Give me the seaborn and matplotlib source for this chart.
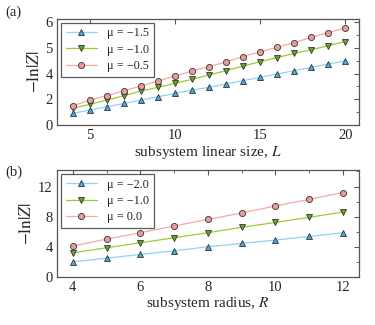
"""
Two-panel plot of -ln|Z| against subsystem size for several mu values.
"""

import numpy as np
import pandas as pd
import matplotlib

matplotlib.use("Agg")
import matplotlib.pyplot as plt  # noqa: E402
import seaborn as sns  # noqa: E402
from matplotlib.ticker import FixedLocator  # noqa: E402

# panel (a): linear size L
size_L = list(range(4, 21))
mu_a = ["−1.5", "−1.0", "−0.5"]
lnz_a_m15 = [0.91, 1.17, 1.42, 1.68, 1.94, 2.20, 2.46, 2.72, 2.93, 3.19, 3.45, 3.70, 3.96, 4.11, 4.24, 4.37, 4.49]
lnz_a_m10 = [1.30, 1.61, 1.94, 2.28, 2.64, 2.93, 3.24, 3.55, 3.89, 4.11, 4.29, 4.46, 4.62, 4.78, 4.92, 5.08, 5.24]
lnz_a_m05 = [1.50, 1.94, 2.28, 2.67, 3.03, 3.42, 3.81, 4.10, 4.27, 4.45, 4.66, 4.84, 5.02, 5.20, 5.40, 5.59, 5.76]

# panel (b): radius R
radius_R = list(range(4, 13))
mu_b = ["−2.0", "−1.0", "0.0"]
lnz_b_m20 = [2.00, 2.49, 2.98, 3.47, 4.00, 4.44, 4.89, 5.38, 5.87]
lnz_b_m10 = [3.20, 3.87, 4.53, 5.20, 5.87, 6.58, 7.24, 7.91, 8.62]
lnz_b_p00 = [4.09, 5.02, 5.87, 6.76, 7.64, 8.49, 9.42, 10.31, 11.20]

line_colors = ["#8fd3f5", "#9acd32", "#f7a8a8"]
face_colors = ["#4aa8dc", "#6aa52a", "#ef9a9a"]
markers = ["^", "v", "o"]


# the upper panel's y axis is stretched above 4 (labels 0, 2, 4, 5, 6 sit evenly)
def fwd(y):
    y = np.asarray(y, dtype=float)
    return np.where(y <= 4, y, 4 + 2 * (y - 4))


def inv(s):
    s = np.asarray(s, dtype=float)
    return np.where(s <= 4, s, 4 + (s - 4) / 2)


def draw(ax, x, series, labels):
    for i, (ys, mu) in enumerate(zip(series, labels)):
        df = pd.DataFrame({"x": x, "y": ys})
        sns.lineplot(data=df, x="x", y="y", ax=ax, color=line_colors[i], lw=0.9,
                     marker=markers[i], markersize=4.4, markerfacecolor=face_colors[i],
                     markeredgecolor="#333333", markeredgewidth=0.6,
                     label=f"μ = {mu}")
    leg = ax.legend(loc="upper left", frameon=True, fancybox=False, fontsize=8.8,
                    handlelength=2.6, borderpad=0.4, labelspacing=0.35,
                    borderaxespad=0.3, handletextpad=0.8)
    leg.get_frame().set_edgecolor("#333333")
    leg.get_frame().set_linewidth(0.9)
    ax.tick_params(which="both", direction="in", right=True, top=True, labelsize=10.5,
                   color="#555555", pad=3)
    ax.tick_params(which="major", length=3.5)
    ax.tick_params(which="minor", length=2)
    ax.set_ylabel(r"$-\ln|Z|$", fontsize=12.5, labelpad=2)
    for sp in ax.spines.values():
        sp.set_color("#555555")
        sp.set_linewidth(0.9)


def main():
    sns.set_style("white")
    plt.rcParams["font.family"] = ["Liberation Serif", "DejaVu Serif"]
    plt.rcParams["mathtext.fontset"] = "stix"

    fig = plt.figure(figsize=(3.75, 3.25), dpi=100)
    ax_a = fig.add_axes([0.152, 0.615, 0.805, 0.327])
    ax_b = fig.add_axes([0.152, 0.148, 0.805, 0.329])

    draw(ax_a, size_L, [lnz_a_m15, lnz_a_m10, lnz_a_m05], mu_a)
    ax_a.set_yscale("function", functions=(fwd, inv))
    ax_a.set_ylim(0, 6.12)
    ax_a.set_xlim(3.07, 20.8)
    ax_a.set_yticks([0, 2, 4, 5, 6])
    ax_a.set_yticklabels(["0", "2", "4", "5", "6"])
    ax_a.yaxis.set_minor_locator(FixedLocator([1, 3, 4.5, 5.5]))
    ax_a.set_xticks([5, 10, 15, 20])
    ax_a.set_xlabel("subsystem linear size, $L$", fontsize=11, labelpad=1)

    draw(ax_b, radius_R, [lnz_b_m20, lnz_b_m10, lnz_b_p00], mu_b)
    ax_b.set_ylim(0, 14.2)
    ax_b.set_xlim(3.53, 12.47)
    ax_b.set_yticks([0, 4, 8, 12])
    ax_b.yaxis.set_minor_locator(FixedLocator([2, 6, 10, 14]))
    ax_b.set_xticks([4, 6, 8, 10, 12])
    ax_b.xaxis.set_minor_locator(FixedLocator([5, 7, 9, 11]))
    ax_b.set_xlabel("subsystem radius, $R$", fontsize=11, labelpad=1)

    fig.text(0.013, 0.962, "(a)", fontsize=10.5, va="center")
    fig.text(0.013, 0.47, "(b)", fontsize=10.5, va="center")

    fig.savefig("out.png", dpi=100)
    plt.close(fig)


if __name__ == "__main__":
    main()
